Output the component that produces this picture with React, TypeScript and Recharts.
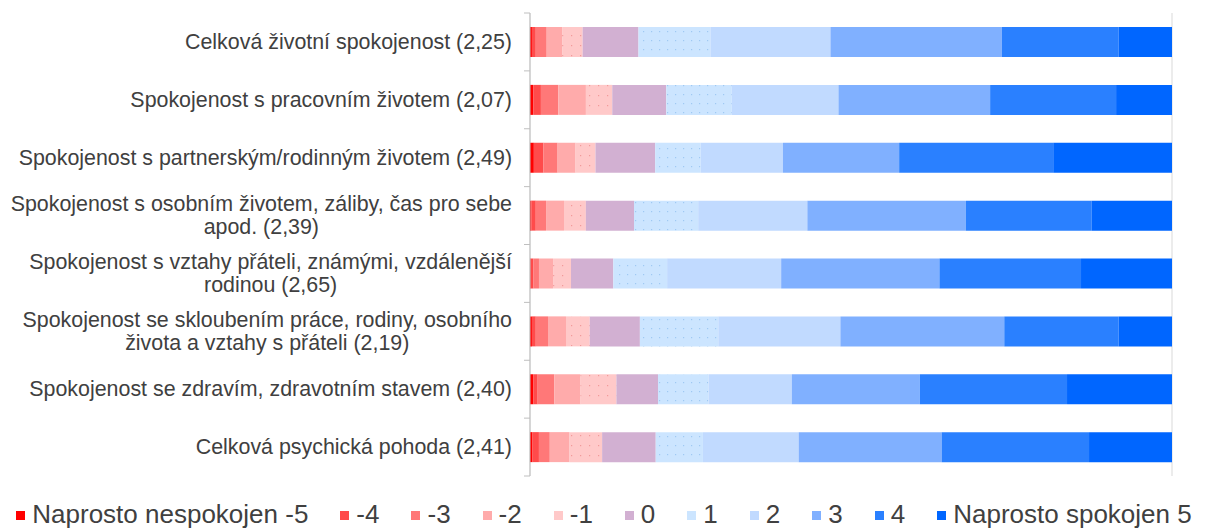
import React from "react";
import { BarChart, Bar, XAxis, YAxis, CartesianGrid } from "recharts";

const categories = [
  "Celková životní spokojenost (2,25)",
  "Spokojenost s pracovním životem (2,07)",
  "Spokojenost s partnerským/rodinným životem (2,49)",
  "Spokojenost s osobním životem, záliby, čas pro sebe apod. (2,39)",
  "Spokojenost s vztahy přáteli, známými, vzdálenější rodinou (2,65)",
  "Spokojenost se skloubením práce, rodiny, osobního života a vztahy s přáteli (2,19)",
  "Spokojenost se zdravím, zdravotním stavem (2,40)",
  "Celková psychická pohoda (2,41)",
];

const levelLabels = ["Naprosto nespokojen -5", "-4", "-3", "-2", "-1", "0", "1", "2", "3", "4", "Naprosto spokojen 5"];

// share of answers (%) per category
const vNeg5 = [0.3, 0.5, 0.6, 0.2, 0.1, 0.3, 0.5, 0.4];
const vNeg4 = [0.6, 1.2, 1.5, 0.7, 0.4, 0.6, 0.7, 1.0];
const vNeg3 = [1.7, 2.7, 2.2, 1.6, 0.9, 1.9, 2.6, 1.7];
const vNeg2 = [2.4, 4.3, 2.8, 2.8, 2.2, 2.8, 4.1, 3.1];
const vNeg1 = [3.2, 4.1, 3.1, 3.4, 2.8, 3.7, 5.6, 5.1];
const vZero = [8.7, 8.4, 9.3, 7.5, 6.6, 7.8, 6.5, 8.4];
const vPos1 = [11.2, 10.2, 7.1, 10.0, 8.4, 12.2, 7.9, 7.4];
const vPos2 = [18.7, 16.6, 12.8, 17.0, 17.8, 19.0, 13.0, 15.0];
const vPos3 = [26.7, 23.6, 18.1, 24.7, 24.7, 25.5, 20.0, 22.4];
const vPos4 = [18.2, 19.6, 24.0, 19.6, 22.1, 17.8, 23.0, 23.1];
const vPos5 = [8.3, 8.7, 18.5, 12.5, 14.2, 8.3, 16.4, 13.0];

const seriesValues = [vNeg5, vNeg4, vNeg3, vNeg2, vNeg1, vZero, vPos1, vPos2, vPos3, vPos4, vPos5];
const colors = ["#FF0000", "#FF4B4B", "#FF7878", "#FFABAB", "#FFC9C9", "#D2B0D2", "#CCE5FF", "#C1DAFF", "#80B0FF", "#2A80FF", "#0066FF"];
const fills = colors.map((c, i) => (i === 4 ? "url(#dotsNeg1)" : i === 6 ? "url(#dotsPos1)" : c));

const data = categories.map((name, i) => {
  const row: Record<string, any> = { name };
  seriesValues.forEach((vals, k) => (row["s" + k] = vals[i]));
  return row;
});

const W = 1208;
const AXIS_X = 530;
const TOP = 13;
const PLOT_BOTTOM = 476;
const BAND = (PLOT_BOTTOM - TOP) / categories.length;
const FONT = '"Liberation Sans", Arial, sans-serif';
const FS = 21.4;

let ctx: CanvasRenderingContext2D | null = null;
const measure = (s: string) => {
  if (!ctx) {
    ctx = document.createElement("canvas").getContext("2d");
    if (ctx) ctx.font = `${FS}px ${FONT}`;
  }
  return ctx ? ctx.measureText(s).width : s.length * FS * 0.5;
};

const wrap = (text: string, maxW: number) => {
  const words = text.split(" ");
  const lines: string[] = [];
  let cur = "";
  words.forEach((w) => {
    const t = cur ? cur + " " + w : w;
    if (cur && measure(t) > maxW) {
      lines.push(cur);
      cur = w;
    } else cur = t;
  });
  if (cur) lines.push(cur);
  return lines;
};

const CatTick = (props: any) => {
  const { y, payload, index } = props;
  const lines = wrap(payload.value, 510);
  const maxW = Math.max(...lines.map(measure));
  const cx = AXIS_X - 18 - maxW / 2;
  const lh = 23;
  const y0 = y - ((lines.length - 1) * lh) / 2;
  return (
    <g>
      {lines.map((l, i) => (
        <text key={i} x={cx} y={y0 + i * lh} textAnchor="middle" dominantBaseline="central" fontSize={FS} fontFamily={FONT} fill="#404040">
          {l}
        </text>
      ))}
      <line x1={AXIS_X - 6} x2={AXIS_X} y1={y - BAND / 2} y2={y - BAND / 2} stroke="#bfbfbf" />
      {index === categories.length - 1 && <line x1={AXIS_X - 6} x2={AXIS_X} y1={y + BAND / 2} y2={y + BAND / 2} stroke="#bfbfbf" />}
    </g>
  );
};

export default function App() {
  return (
    <div style={{ position: "absolute", left: 0, top: 0, width: W, height: 529, background: "#fff", fontFamily: FONT, overflow: "hidden" }}>
      <BarChart
        width={W}
        height={480}
        data={data}
        layout="vertical"
        stackOffset="expand"
        barSize={30}
        margin={{ top: TOP, right: W - 1172, bottom: 480 - PLOT_BOTTOM, left: 0 }}
      >
        <defs>
          <pattern id="dotsPos1" width="8" height="9" patternUnits="userSpaceOnUse">
            <rect width="8" height="9" fill="#CCE5FF" />
            <rect x="3" y="4" width="1.2" height="1.2" fill="#9FC9F3" />
          </pattern>
          <pattern id="dotsNeg1" width="9" height="10" patternUnits="userSpaceOnUse">
            <rect width="9" height="10" fill="#FFC9C9" />
            <rect x="4" y="5" width="1.2" height="1.2" fill="#F29A9A" />
          </pattern>
        </defs>
        <CartesianGrid horizontal={false} stroke="#d9d9d9" />
        <XAxis type="number" domain={[0, 1]} ticks={[0, 0.2, 0.4, 0.6, 0.8, 1]} tick={false} axisLine={false} tickLine={false} height={0} />
        <YAxis type="category" dataKey="name" width={AXIS_X} axisLine={{ stroke: "#bfbfbf" }} tickLine={false} tick={<CatTick />} interval={0} />
        {seriesValues.map((_, k) => (
          <Bar key={k} dataKey={"s" + k} name={levelLabels[k]} stackId="a" fill={fills[k]} isAnimationActive={false} />
        ))}
      </BarChart>
      <div
        style={{
          position: "absolute",
          left: 0,
          top: 500,
          width: W,
          height: 28,
          display: "flex",
          justifyContent: "center",
          alignItems: "center",
          gap: 32,
          fontSize: 26,
          lineHeight: "28px",
          color: "#404040",
          whiteSpace: "nowrap",
        }}
      >
        {levelLabels.map((l, k) => (
          <div key={k} style={{ display: "flex", alignItems: "center" }}>
            <span style={{ display: "inline-block", width: 9, height: 9, background: colors[k], marginRight: 7, marginTop: 3 }} />
            <span>{l}</span>
          </div>
        ))}
      </div>
    </div>
  );
}
